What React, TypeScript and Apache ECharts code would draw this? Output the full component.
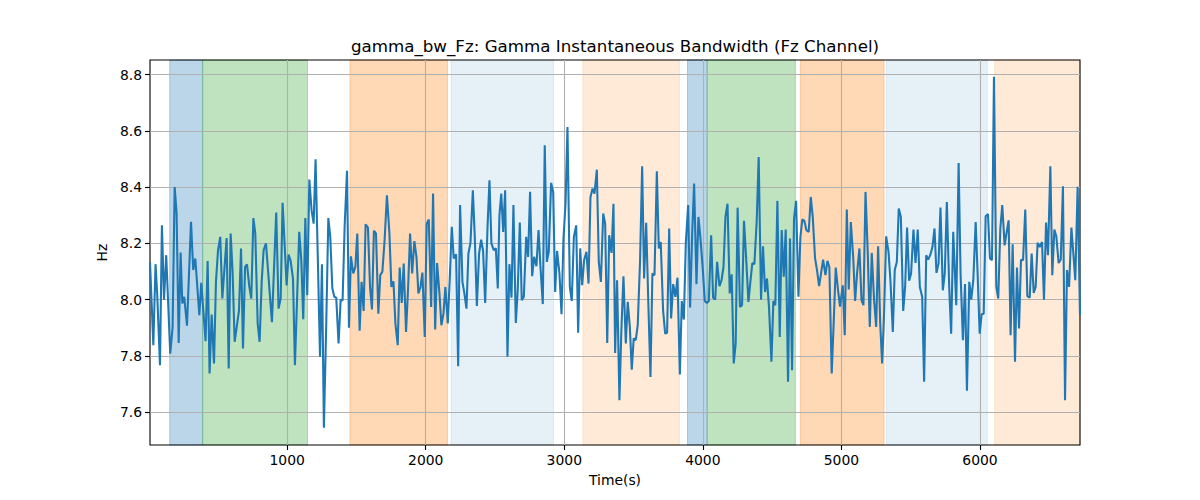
import React, { useEffect, useRef } from "react";
import * as echarts from "echarts";

const times = [
  10, 34, 50, 62, 82, 96, 111, 127, 156, 173, 188, 202, 217, 231, 243, 257, 277, 306, 322, 337,
  366, 380, 411, 426, 440, 455, 472, 486, 501, 517, 532, 563, 578, 592, 606, 621, 652, 667, 681, 696,
  710, 727, 741, 756, 770, 787, 801, 816, 830, 847, 890, 921, 938, 953, 967, 996, 1010, 1024, 1042, 1056,
  1087, 1102, 1116, 1131, 1145, 1160, 1176, 1191, 1205, 1222, 1237, 1251, 1265, 1282, 1297, 1311, 1326, 1340, 1354, 1371,
  1386, 1400, 1415, 1432, 1446, 1460, 1477, 1492, 1506, 1523, 1537, 1552, 1566, 1583, 1598, 1612, 1626, 1641, 1658, 1672,
  1687, 1703, 1720, 1738, 1752, 1767, 1781, 1798, 1812, 1827, 1841, 1858, 1873, 1887, 1902, 1918, 1933, 1947, 1962, 1976,
  1993, 2007, 2022, 2039, 2053, 2068, 2082, 2099, 2113, 2128, 2142, 2159, 2174, 2188, 2202, 2219, 2234, 2248, 2265, 2279,
  2294, 2308, 2323, 2340, 2354, 2369, 2385, 2400, 2414, 2429, 2446, 2460, 2474, 2491, 2506, 2520, 2532, 2545, 2559, 2573,
  2590, 2604, 2619, 2633, 2650, 2664, 2679, 2693, 2708, 2725, 2739, 2753, 2768, 2782, 2799, 2814, 2828, 2845, 2859, 2874,
  2888, 2905, 2920, 2934, 2948, 2965, 2980, 2994, 3009, 3023, 3040, 3054, 3069, 3086, 3100, 3115, 3129, 3143, 3160, 3175,
  3189, 3204, 3218, 3235, 3249, 3264, 3281, 3295, 3310, 3324, 3341, 3355, 3367, 3381, 3398, 3412, 3427, 3444, 3458, 3473,
  3487, 3501, 3516, 3530, 3547, 3562, 3576, 3591, 3607, 3622, 3636, 3651, 3668, 3682, 3696, 3713, 3728, 3742, 3757, 3771,
  3786, 3802, 3817, 3834, 3848, 3863, 3877, 3894, 3908, 3923, 3937, 3954, 3968, 3983, 4000, 4014, 4029, 4043, 4060, 4074,
  4089, 4103, 4120, 4135, 4149, 4163, 4178, 4194, 4208, 4223, 4237, 4251, 4268, 4283, 4297, 4312, 4329, 4343, 4357, 4372,
  4389, 4403, 4420, 4434, 4449, 4463, 4478, 4495, 4509, 4523, 4538, 4555, 4569, 4584, 4598, 4615, 4629, 4644, 4658, 4673,
  4690, 4704, 4718, 4733, 4747, 4764, 4779, 4793, 4810, 4824, 4839, 4853, 4868, 4885, 4899, 4913, 4930, 4945, 4959, 4976,
  4990, 5010, 5024, 5039, 5053, 5068, 5085, 5099, 5113, 5130, 5145, 5159, 5174, 5190, 5205, 5219, 5236, 5251, 5265, 5280,
  5294, 5308, 5323, 5340, 5354, 5371, 5385, 5400, 5414, 5429, 5446, 5460, 5474, 5489, 5503, 5520, 5535, 5551, 5566, 5583,
  5597, 5612, 5626, 5641, 5657, 5672, 5686, 5701, 5715, 5732, 5746, 5761, 5778, 5792, 5807, 5829, 5846, 5860, 5877, 5892,
  5906, 5923, 5937, 5952, 5969, 5983, 5998, 6012, 6027, 6041, 6058, 6072, 6087, 6101, 6118, 6132, 6147, 6161, 6178, 6193,
  6207, 6221, 6236, 6253, 6267, 6282, 6296, 6311, 6327, 6342, 6359, 6373, 6388, 6402, 6416, 6431, 6448, 6462, 6477, 6491,
  6508, 6522, 6537, 6551, 6568, 6583, 6599, 6614, 6628, 6643, 6660, 6674, 6688, 6705, 6722,
];

const values = [
  8.134, 7.838, 8.126, 8.02, 7.767, 8.264, 8.0, 8.158, 7.808, 7.9, 8.4, 8.306, 7.846, 8.167, 7.986, 8.01, 7.907, 8.277, 8.105, 8.146,
  7.945, 8.06, 7.852, 8.137, 7.737, 7.947, 7.773, 8.063, 8.176, 8.223, 8.004, 8.219, 7.755, 8.235, 8.099, 7.85, 7.96, 8.182, 7.826, 8.116,
  8.125, 8.045, 8.004, 8.29, 8.235, 7.915, 7.85, 8.063, 8.176, 8.2, 7.92, 8.31, 7.968, 8.004, 8.344, 8.05, 8.16, 8.14, 8.075, 7.767,
  8.241, 8.14, 7.93, 8.29, 8.016, 8.427, 8.318, 8.27, 8.499, 8.128, 7.797, 8.126, 7.544, 7.915, 8.29, 8.223, 8.04, 8.01, 8.007, 7.844,
  8.0, 7.997, 8.264, 8.458, 7.9, 8.154, 8.093, 8.116, 8.235, 7.889, 8.063, 7.96, 8.268, 8.256, 8.045, 7.965, 8.245, 8.235, 7.95, 8.087,
  8.099, 8.21, 8.371, 8.235, 8.045, 8.065, 7.915, 7.838, 8.114, 7.988, 8.128, 7.885, 8.045, 8.235, 8.093, 8.208, 8.152, 8.022, 8.045, 8.096,
  7.867, 8.27, 8.285, 7.974, 8.377, 7.894, 8.13, 8.022, 7.909, 7.95, 8.045, 7.915, 8.081, 8.259, 8.146, 8.161, 7.763, 8.336, 8.063, 8.022,
  7.968, 8.164, 8.202, 8.389, 8.223, 7.977, 8.164, 8.213, 8.173, 7.988, 8.259, 8.424, 8.2, 8.176, 8.182, 8.04, 8.3, 8.377, 8.241, 8.389,
  7.797, 8.126, 8.007, 8.336, 7.917, 8.033, 8.274, 7.998, 8.01, 8.223, 8.152, 8.383, 8.083, 8.152, 8.119, 8.247, 8.116, 7.984, 8.549, 8.134,
  8.17, 8.415, 8.383, 8.027, 8.173, 8.093, 7.948, 8.217, 8.341, 8.614, 8.045, 7.995, 8.223, 8.264, 7.882, 8.182, 8.051, 8.14, 8.17, 8.057,
  8.365, 8.395, 8.377, 8.462, 8.134, 8.063, 8.306, 8.27, 7.846, 8.229, 8.166, 8.341, 7.81, 8.069, 7.642, 7.891, 8.083, 7.844, 7.992, 7.903,
  7.751, 7.862, 7.856, 7.909, 8.14, 8.474, 8.075, 8.273, 7.98, 7.725, 8.093, 8.087, 8.456, 8.182, 8.205, 7.962, 7.879, 7.882, 8.253, 7.933,
  8.055, 8.01, 8.078, 7.734, 7.995, 7.929, 8.2, 8.336, 7.972, 8.235, 8.413, 8.055, 8.294, 8.217, 8.105, 7.995, 7.988, 7.995, 8.229, 8.007,
  8.0, 8.134, 8.048, 8.069, 8.116, 8.294, 8.341, 8.022, 8.09, 7.773, 7.844, 8.327, 7.974, 7.98, 8.28, 8.152, 7.992, 8.063, 8.13, 8.126,
  8.282, 8.507, 8.0, 8.19, 8.027, 8.075, 7.968, 7.779, 7.995, 7.98, 8.351, 7.867, 8.247, 8.081, 8.249, 7.708, 8.217, 7.749, 8.288, 8.351,
  8.01, 8.223, 8.285, 8.28, 8.247, 8.241, 8.365, 8.294, 8.146, 8.105, 8.048, 8.093, 8.142, 8.087, 8.138, 8.116, 7.737, 7.927, 8.114, 8.033,
  7.975, 8.051, 7.873, 8.32, 8.036, 8.276, 8.152, 7.995, 8.093, 8.182, 7.998, 7.98, 8.383, 8.17, 7.903, 8.166, 7.998, 7.903, 8.19, 7.915,
  7.773, 7.95, 8.225, 8.17, 8.067, 7.885, 8.105, 8.134, 8.324, 8.294, 7.96, 8.045, 8.256, 8.067, 8.093, 8.249, 8.13, 8.249, 8.045, 8.01,
  7.708, 8.158, 8.142, 8.158, 8.187, 8.253, 8.095, 8.128, 8.327, 8.033, 8.093, 8.347, 8.045, 7.879, 8.241, 7.98, 8.486, 8.093, 7.856, 8.055,
  7.676, 8.063, 8.0, 8.069, 8.276, 8.093, 7.879, 7.948, 7.95, 8.296, 8.304, 8.146, 8.14, 8.792, 8.045, 8.004, 8.253, 8.336, 8.193, 8.241,
  8.282, 7.873, 8.197, 7.779, 8.114, 7.897, 8.142, 8.14, 8.32, 8.012, 8.007, 8.164, 8.024, 8.045, 8.202, 8.187, 8.205, 8.0, 8.274, 8.158,
  8.474, 8.087, 8.249, 8.225, 8.13, 8.142, 8.403, 7.642, 8.105, 8.045, 8.256, 8.164, 8.069, 8.401, 7.945,
];

// Shaded regimes: start time, end time, regime kind
const spanStarts = [152, 390, 1453, 2183, 3134, 3889, 4031, 4704, 5325, 6106];
const spanEnds = [390, 1147, 2157, 2922, 3831, 4031, 4668, 5308, 6053, 6722];
const spanKinds = ["blue", "green", "orange", "lightblue", "lightorange", "blue", "green", "orange", "lightblue", "lightorange"];

const xTicks = [1000, 2000, 3000, 4000, 5000, 6000];
const yTicks = [7.6, 7.8, 8.0, 8.2, 8.4, 8.6, 8.8];

const X_MIN = 10;
const X_MAX = 6722;
const Y_MIN = 7.483;
const Y_MAX = 8.852;

const kindColors: Record<string, string> = {
  blue: "rgba(31,119,180,0.3)",
  green: "rgba(44,160,44,0.3)",
  orange: "rgba(255,127,14,0.3)",
  lightblue: "rgba(31,119,180,0.11)",
  lightorange: "rgba(255,127,14,0.16)",
};

const FONT = "DejaVu Sans";

export default function App() {
  const ref = useRef<HTMLDivElement>(null);

  useEffect(() => {
    document.body.style.margin = "0";
    if (!ref.current) return;
    const chart = echarts.init(ref.current, null, { renderer: "svg" });

    const data = times.map((t, i) => [t, values[i]]);
    const areas = spanStarts.map((s, i) => {
      const c = kindColors[spanKinds[i]];
      return [
        { xAxis: s, itemStyle: { color: c, borderColor: c, borderWidth: 1 } },
        { xAxis: spanEnds[i] },
      ];
    });

    chart.setOption({
      animation: false,
      backgroundColor: "#ffffff",
      title: {
        text: "gamma_bw_Fz: Gamma Instantaneous Bandwidth (Fz Channel)",
        left: 615,
        top: 37,
        textAlign: "center",
        padding: 0,
        textStyle: { fontFamily: FONT, fontSize: 16.7, fontWeight: "normal", color: "#000" },
      },
      grid: {
        left: 150,
        right: 120,
        top: 60,
        bottom: 55,
        show: true,
        borderColor: "#000",
        borderWidth: 1.1,
        backgroundColor: "transparent",
        z: 2,
      },
      xAxis: {
        type: "value",
        min: X_MIN,
        max: X_MAX,
        z: 2,
        name: "Time(s)",
        nameLocation: "middle",
        nameGap: 28,
        nameTextStyle: { fontFamily: FONT, fontSize: 13.9, color: "#000" },
        axisLine: { show: false },
        axisTick: { show: true, customValues: xTicks, length: 5, lineStyle: { color: "#000", width: 1.1 } },
        axisLabel: {
          customValues: xTicks,
          margin: 8,
          fontFamily: FONT,
          fontSize: 13.9,
          color: "#000",
          formatter: (v: number) => String(Math.round(v)),
        },
        splitLine: { show: true, lineStyle: { color: "#b0b0b0", width: 1.1 } },
      },
      yAxis: {
        type: "value",
        min: Y_MIN,
        max: Y_MAX,
        z: 2,
        name: "Hz",
        nameLocation: "middle",
        nameGap: 38,
        nameRotate: 90,
        nameTextStyle: { fontFamily: FONT, fontSize: 13.9, color: "#000" },
        axisLine: { show: false },
        axisTick: { show: true, customValues: yTicks, length: 5, lineStyle: { color: "#000", width: 1.1 } },
        axisLabel: {
          customValues: yTicks,
          margin: 8,
          fontFamily: FONT,
          fontSize: 13.9,
          color: "#000",
          formatter: (v: number) => v.toFixed(1),
        },
        splitLine: { show: true, lineStyle: { color: "#b0b0b0", width: 1.1 } },
      },
      series: [
        {
          type: "line",
          z: 1,
          silent: true,
          data,
          showSymbol: false,
          symbol: "none",
          lineStyle: { opacity: 0, width: 0 },
          markArea: { silent: true, z: 1, data: areas },
        },
        {
          type: "line",
          z: 3,
          data,
          showSymbol: false,
          symbol: "none",
          clip: true,
          lineStyle: { color: "#1f77b4", width: 2.08 },
        },
      ],
    });

    return () => chart.dispose();
  }, []);

  return <div ref={ref} style={{ width: 1200, height: 500 }} />;
}
